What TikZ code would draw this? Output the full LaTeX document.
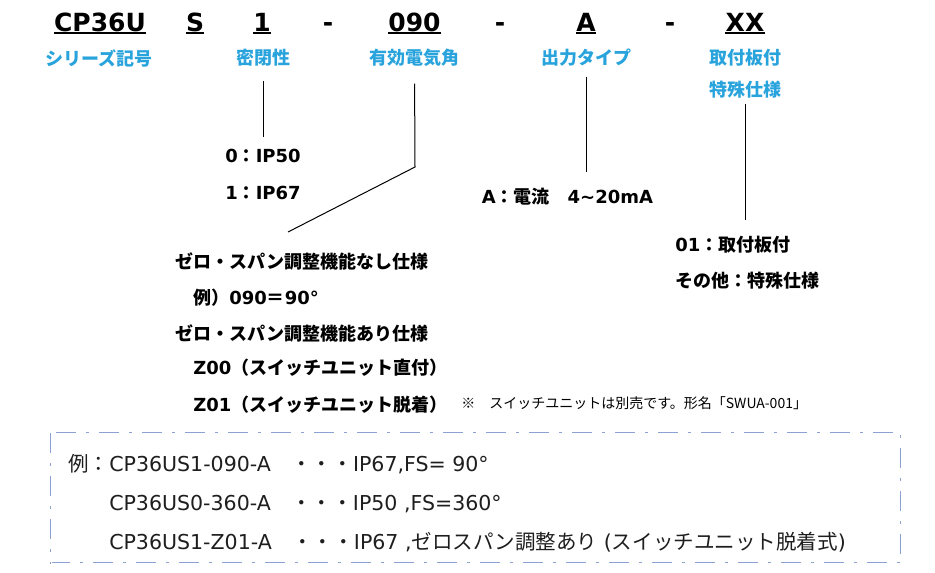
\documentclass[tikz,border=0pt]{standalone}
\usepackage{fontspec}
\setmainfont{DejaVu Sans}
\newfontfamily\jpfont{Noto Sans CJK JP}
\newcommand\jp[1]{{\jpfont#1}}
\definecolor{lblblue}{RGB}{41,163,220}
\definecolor{boxline}{RGB}{140,162,210}
\definecolor{extext}{RGB}{30,30,30}
\tikzset{
  code/.style={font=\fontsize{18.75}{20}\selectfont\bfseries, inner sep=0pt, anchor=base},
  lbl/.style={font=\fontsize{13.5}{16}\selectfont\bfseries\jpfont, text=lblblue, inner sep=0pt},
  val/.style={font=\fontsize{13.5}{16}\selectfont\bfseries, inner sep=0pt, anchor=west},
  note/.style={font=\fontsize{10.5}{12}\selectfont\jpfont, inner sep=0pt, anchor=west},
  ex/.style={font=\fontsize{15.4}{17}\selectfont, text=extext, inner sep=0pt, anchor=west},
  ul/.style={line width=1.4pt},
  lead/.style={line width=0.75pt},
  boxdash/.style={dash pattern=on 15pt off 7.5pt on 2.25pt off 7.5pt},
  boxouter/.style={boxdash, draw=boxline, line width=2.2pt},
  boxinner/.style={boxdash, draw=white, line width=0.7pt}
}

\begin{document}
\begin{tikzpicture}[x=0.75pt, y=-0.75pt]
  %%%%% START %%%%%
  \useasboundingbox (0,0) rectangle (935,572);

  % model code
  \node[code] (series) at (100,31) {CP36U};
  \node[code] (seal) at (195,31) {S};
  \node[code] (sealno) at (262,31) {1};
  \node[code] (dashA) at (328,31) {-};
  \node[code] (angle) at (414.5,31) {090};
  \node[code] (dashB) at (500,31) {-};
  \node[code] (output) at (586,31) {A};
  \node[code] (dashC) at (670,31) {-};
  \node[code] (option) at (745,31) {XX};

  \draw[ul] ([yshift=-1.8pt]series.base west) -- ([yshift=-1.8pt]series.base east);
  \draw[ul] ([yshift=-1.8pt]seal.base west) -- ([yshift=-1.8pt]seal.base east);
  \draw[ul] ([yshift=-1.8pt]sealno.base west) -- ([yshift=-1.8pt]sealno.base east);
  \draw[ul] ([yshift=-1.8pt]angle.base west) -- ([yshift=-1.8pt]angle.base east);
  \draw[ul] ([yshift=-1.8pt]output.base west) -- ([yshift=-1.8pt]output.base east);
  \draw[ul] ([yshift=-1.8pt]option.base west) -- ([yshift=-1.8pt]option.base east);

  % blue labels
  \node[lbl] (seriesLbl) at (99,58) {シリーズ記号};
  \node[lbl] (sealLbl) at (263,58) {密閉性};
  \node[lbl] (angleLbl) at (414.5,58) {有効電気角};
  \node[lbl] (outLbl) at (586,58) {出力タイプ};
  \node[lbl] (optLbl) at (745,58) {取付板付};
  \node[lbl] (optLblB) at (745,89.5) {特殊仕様};

  % values
  \node[val] (ipA) at (225,156) {0\jp{：}IP50};
  \node[val] (ipB) at (225,192.5) {1\jp{：}IP67};
  \node[val] (current) at (481.5,196.5) {A\jp{：電流　}4\textasciitilde 20mA};
  \node[val] (mount) at (675,245) {01\jp{：取付板付}};
  \node[val] (special) at (675,281) {\jp{その他：特殊仕様}};

  \node[val] (zeroNo) at (175,261.5) {\jp{ゼロ・スパン調整機能なし仕様}};
  \node[val] (exAngle) at (193,298) {\jp{例）}090\jp{＝}90°};
  \node[val] (zeroYes) at (175,333) {\jp{ゼロ・スパン調整機能あり仕様}};
  \node[val] (zA) at (193,368) {Z00\jp{（スイッチユニット直付）}};
  \node[val] (zB) at (193,405) {Z01\jp{（スイッチユニット脱着）}};
  \node[note] (swNote) at (461,403.5) {※　スイッチユニットは別売です。形名「SWUA-001」};

  % leaders
  \coordinate (bend) at (415,167);
  \coordinate (zeroEnd) at (288,232);
  \draw[lead, shorten <=11pt, shorten >=9pt] (sealLbl.south) -- (sealLbl.south |- ipA.north);
  \draw[lead, shorten <=12.5pt] (angleLbl.south) -- (bend) -- (zeroEnd);
  \draw[lead, shorten <=7.5pt, shorten >=11.5pt] (outLbl.south) -- (outLbl.south |- current.north);
  \draw[lead, shorten <=4pt, shorten >=12pt] (optLblB.south) -- (optLblB.south |- mount.north);

  % examples
  \draw[boxouter] (51,433) rectangle (901,563);
  \draw[boxinner] (51,433) rectangle (901,563);
  \node[ex] (exA) at (68,464) {\jp{例：}CP36US1-090-A\jp{　・・・}IP67,FS= 90°};
  \node[ex] (exB) at (109,504) {CP36US0-360-A\jp{　・・・}IP50 ,FS=360°};
  \node[ex] (exC) at (109,542) {CP36US1-Z01-A\jp{　・・・}IP67 ,\jp{ゼロスパン調整あり} (\jp{スイッチユニット脱着式})};
  %%%%% END %%%%%
\end{tikzpicture}
\end{document}
